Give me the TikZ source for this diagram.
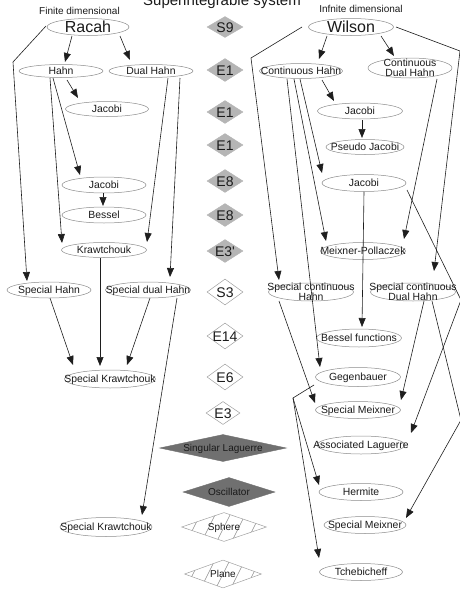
\documentclass[tikz,border=0pt]{standalone}
\usepackage{fontspec}
\setmainfont{Liberation Sans}[Ligatures=TeXOff]
\usetikzlibrary{shapes.geometric,arrows.meta}
\definecolor{lnc}{HTML}{1E1E1E}
\definecolor{ellc}{HTML}{8C8C8C}
\definecolor{txt}{HTML}{1A1A1A}
\definecolor{lgray}{HTML}{B5B5B5}
\definecolor{dgray}{HTML}{707070}
\definecolor{wbord}{HTML}{A0A0A0}
\definecolor{hatchc}{HTML}{909090}
\newcommand\lbl[1]{\makebox[0pt]{#1}}
\newcommand\twol[2]{\makebox[0pt]{\begin{tabular}{@{}c@{}}#1\\[-1.5pt]#2\end{tabular}}}
\tikzset{
  ell/.style={ellipse, draw=ellc, line width=0.5pt, fill=white, inner sep=0pt,
    minimum width=84pt, minimum height=16pt, text height=7pt, text depth=0pt,
    font=\fontsize{10.4}{12}\selectfont, text=txt},
  bigell/.style={ell, font=\fontsize{16}{18}\selectfont, text height=11.5pt, minimum height=17pt},
  dia/.style={diamond, inner sep=0pt, minimum width=36pt, minimum height=23pt,
    text height=10pt, text depth=0pt, font=\fontsize{14}{16}\selectfont, text=txt},
  gdia/.style={dia, fill=lgray, draw=lgray},
  wdia/.style={dia, fill=white, draw=wbord, line width=0.5pt, minimum height=26pt},
  ddia/.style={dia, fill=dgray, draw=dgray, font=\fontsize{10}{12}\selectfont, text height=7pt},
  hdia/.style={dia, draw=wbord, fill=white, line width=0.5pt, font=\fontsize{10}{12}\selectfont, text height=7pt,
    path picture={\foreach \k in {-3,...,3}
      \draw[hatchc, line width=0.5pt] ([shift={(\k*15-8,16)}]path picture bounding box.center) -- ++(16,-32);}},
  arr/.style={-{Triangle[length=9pt,width=7pt]}, line width=0.6pt, draw=lnc},
  ttl/.style={font=\fontsize{10}{12}\selectfont, text=txt, inner sep=0pt}
}
\begin{document}
\begin{tikzpicture}[x=1pt,y=-1pt]
\useasboundingbox (0,0) rectangle (459,589);
% titles
\node[font=\fontsize{15}{17}\selectfont, text=txt, anchor=base, inner sep=0pt] (title) at (222,5.5) {Superintegrable system};
\node[ttl] (fin) at (79.5,11) {Finite dimensional};
\node[ttl] (inf) at (361,9) {Infnite dimensional};

% centre column
\node[gdia, minimum height=21pt] (dS9) at (225,27) {\lbl{S9}};
\node[gdia] (dE1a) at (225,70) {\lbl{E1}};
\node[gdia] (dE1b) at (225,112) {\lbl{E1}};
\node[gdia] (dE1c) at (225,145) {\lbl{E1}};
\node[gdia] (dE8a) at (225,181) {\lbl{E8}};
\node[gdia] (dE8b) at (225,215) {\lbl{E8}};
\node[gdia] (dE3p) at (225,251) {\lbl{E3'}};
\node[wdia] (dS3) at (225,292) {\lbl{S3}};
\node[wdia] (dE14) at (225,336) {\lbl{E14}};
\node[wdia] (dE6) at (225,377) {\lbl{E6}};
\node[wdia, minimum width=34pt, minimum height=23pt] (dE3) at (223,413) {\lbl{E3}};
\node[ddia, minimum width=127pt, minimum height=27pt] (dSL) at (223,448) {\lbl{Singular Laguerre}};
\node[ddia, minimum width=92pt, minimum height=29pt] (dOsc) at (229,492) {\lbl{Oscillator}};
\node[hdia, minimum width=85pt, minimum height=29pt] (dSph) at (224,527) {\lbl{Sphere}};
\node[hdia, minimum width=77pt, minimum height=28pt] (dPl) at (223,574) {\lbl{Plane}};

% left side
\node[bigell, minimum width=82pt] (racah) at (88,27) {\lbl{Racah}};
\node[ell, minimum height=13pt] (hahn) at (61,71) {\lbl{Hahn}};
\node[ell, minimum height=13pt] (dhahn) at (151,71) {\lbl{Dual Hahn}};
\node[ell, minimum width=83pt, minimum height=15pt] (jacL1) at (107,109) {\lbl{Jacobi}};
\node[ell] (jacL2) at (104,185) {\lbl{Jacobi}};
\node[ell] (bessel) at (104,215) {\lbl{Bessel}};
\node[ell, minimum width=85pt, minimum height=15pt] (krw) at (104,250) {\lbl{Krawtchouk}};
\node[ell] (shahn) at (49,290) {\lbl{Special Hahn}};
\node[ell, minimum width=85pt] (sdhahn) at (148,290) {\lbl{Special dual Hahn}};
\node[ell, minimum width=91pt, minimum height=18pt] (skrw1) at (110,379) {\lbl{Special Krawtchouk}};
\node[ell, minimum width=92pt, minimum height=19pt] (skrw2) at (106,527) {\lbl{Special Krawtchouk}};

% right side
\node[bigell, minimum width=85pt] (wilson) at (351,27) {\lbl{Wilson}};
\node[ell, minimum width=83pt, minimum height=15pt] (chahn) at (301,71) {\lbl{Continuous Hahn}};
\node[ell, minimum height=20pt] (cdhahn) at (410,68) {\twol{Continuous}{Dual Hahn}};
\node[ell, minimum width=85pt] (jacR1) at (360,111) {\lbl{Jacobi}};
\node[ell, minimum width=78pt, minimum height=15pt] (pjac) at (365,147) {\lbl{Pseudo Jacobi}};
\node[ell, minimum height=17pt] (jacR2) at (364,183) {\lbl{Jacobi}};
\node[ell, minimum width=85pt, minimum height=17pt] (mp) at (363,251) {\lbl{Meixner-Pollaczek}};
\node[ell, minimum width=85pt, minimum height=18pt] (schahn) at (311,292) {\twol{Special continuous}{Hahn}};
\node[ell, minimum width=85pt, minimum height=18pt] (scdhahn) at (413,292) {\twol{Special continuous}{Dual Hahn}};
\node[ell, minimum width=85pt, minimum height=18pt] (besf) at (359,338) {\lbl{Bessel functions}};
\node[ell, minimum width=85pt, minimum height=19pt] (gegen) at (358,377) {\lbl{Gegenbauer}};
\node[ell, minimum width=85pt, minimum height=17pt] (smeix1) at (358,410) {\lbl{Special Meixner}};
\node[ell, minimum width=88pt, minimum height=18pt] (alag) at (361,445) {\lbl{Associated Laguerre}};
\node[ell, minimum height=17pt] (herm) at (361,492) {\lbl{Hermite}};
\node[ell, minimum width=82pt, minimum height=17pt] (smeix2) at (365,525) {\lbl{Special Meixner}};
\node[ell, minimum width=83pt, minimum height=17pt] (tcheb) at (361,572) {\lbl{Tchebicheff}};

% bend points
\coordinate (b1) at (13,62);
\coordinate (b2) at (251,58);
\coordinate (b3) at (460,51);
\coordinate (b4) at (461,300);
\coordinate (b5) at (461,420);
\coordinate (b6) at (293,398);

% left connectors
\draw[arr] ([shift={(-16,9)}]racah.center) -- ([shift={(4,-9)}]hahn.center);
\draw[arr] ([shift={(32,9)}]racah.center) -- ([shift={(-21,-11)}]dhahn.center);
\draw[arr] ([shift={(-42,-1)}]racah.center) -- (b1) -- ([shift={(-22,-9)}]shahn.center);
\draw[arr] ([shift={(6,9)}]hahn.center) -- ([shift={(-29,-11)}]jacL1.center);
\draw[arr] ([shift={(-11,7)}]hahn.center) -- ([shift={(-42,-7)}]krw.center);
\draw[arr] ([shift={(-8,7)}]hahn.center) -- ([shift={(-24,-10)}]jacL2.center);
\draw[arr] ([shift={(17,7)}]dhahn.center) -- ([shift={(43,-8)}]krw.center);
\draw[arr] ([shift={(29,7)}]dhahn.center) -- ([shift={(22,-13)}]sdhahn.center);
\draw[arr] ([shift={(-1,8)}]jacL2.center) -- ([shift={(-1,-9)}]bessel.center);
\draw[arr] ([shift={(1,8)}]shahn.center) -- ([shift={(-37,-14)}]skrw1.center);
\draw[arr] ([shift={(-4,8)}]krw.center) -- ([shift={(-10,-13)}]skrw1.center);
\draw[arr] ([shift={(2,8)}]sdhahn.center) -- ([shift={(17,-14)}]skrw1.center);
\draw[arr] ([shift={(29,8)}]sdhahn.center) -- ([shift={(36,-12)}]skrw2.center);

% right connectors
\draw[arr] ([shift={(-24,9)}]wilson.center) -- ([shift={(18,-12)}]chahn.center);
\draw[arr] ([shift={(30,9)}]wilson.center) -- ([shift={(-16,-12)}]cdhahn.center);
\draw[arr] ([shift={(-49,0)}]wilson.center) -- (b2) -- ([shift={(-32,-12)}]schahn.center);
\draw[arr] ([shift={(45,0)}]wilson.center) -- (b3) -- ([shift={(21,-21)}]scdhahn.center);
\draw[arr] ([shift={(21,9)}]chahn.center) -- ([shift={(-26,-10)}]jacR1.center);
\draw[arr] ([shift={(2,9)}]jacR1.center) -- ([shift={(-3,-9)}]pjac.center);
\draw[arr] ([shift={(-1,8)}]chahn.center) -- ([shift={(-42,-10)}]jacR2.center);
\draw[arr] ([shift={(-7,8)}]chahn.center) -- ([shift={(-37,-10)}]mp.center);
\draw[arr] ([shift={(-14,8)}]chahn.center) -- ([shift={(-38,-10)}]gegen.center);
\draw[arr] ([shift={(27,11)}]cdhahn.center) -- ([shift={(41,-12)}]mp.center);
\draw[arr] ([shift={(0,9)}]jacR2.center) -- ([shift={(3,-11)}]besf.center);
\draw[arr] ([shift={(43,7)}]jacR2.center) -- (b4) -- ([shift={(50,-12)}]alag.center);
\draw[arr] ([shift={(-32,9)}]schahn.center) -- ([shift={(-43,-7)}]smeix1.center);
\draw[arr] ([shift={(11,9)}]scdhahn.center) -- ([shift={(43,-10)}]smeix1.center);
\draw[arr] ([shift={(19,9)}]scdhahn.center) -- (b5) -- ([shift={(41,-7)}]smeix2.center);
\draw[arr] ([shift={(-44,8)}]gegen.center) -- (b6) -- ([shift={(-42,-7)}]herm.center);
\draw[arr] (b6) -- ([shift={(-42,-14)}]tcheb.center);
\end{tikzpicture}
\end{document}
